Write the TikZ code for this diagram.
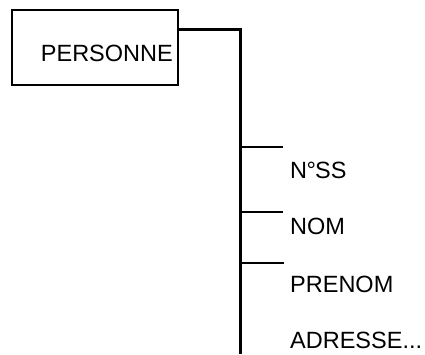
\documentclass[tikz,border=0pt]{standalone}
\usepackage{fontspec}
\setmainfont{Liberation Sans}
\begin{document}
\begin{tikzpicture}[x=1pt,y=1pt,
  lbl/.style={anchor=base west,inner sep=0pt,font=\fontsize{23.5}{25}\selectfont},
  ent/.style={draw,line width=2pt,minimum width=166pt,minimum height=75pt,inner sep=0pt},
  conn/.style={line width=3pt},
  tick/.style={line width=2.4pt}]
\useasboundingbox (0,0) rectangle (425,354);
\node[ent] (p) at (95,306.5) {};
\node[anchor=base east,inner sep=0pt,font=\fontsize{23.5}{25}\selectfont] (pt) at (173,292) {PERSONNE};
\coordinate (j) at (240,324);
\coordinate (bot) at (240,0);
\draw[conn] (p.east |- j) -- (j) -- (bot);
\coordinate (t1) at (240,207); \coordinate (e1) at (283,207);
\coordinate (t2) at (240,142); \coordinate (e2) at (283,142);
\coordinate (t3) at (240,91);  \coordinate (e3) at (284,91);
\draw[tick] (t1) -- (e1);
\draw[tick] (t2) -- (e2);
\draw[tick] (t3) -- (e3);
\node[lbl] (a1) at (290,176) {N\kern-0.5pt°\kern-1ptSS};
\node[lbl] (a2) at (290,120) {NOM};
\node[lbl] (a3) at (290,62) {PRENOM};
\node[lbl] (a4) at (290,6) {ADRESSE...};
\end{tikzpicture}
\end{document}
